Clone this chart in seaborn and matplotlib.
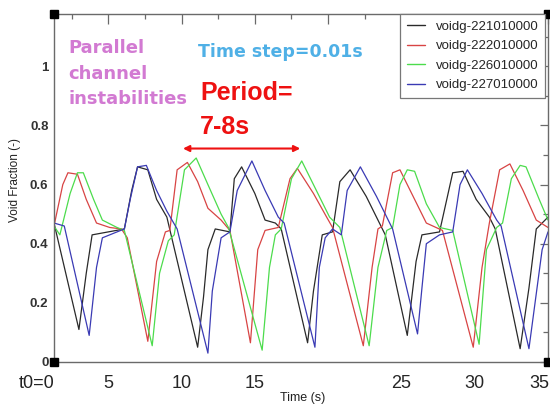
import numpy as np
import pandas as pd
import matplotlib
matplotlib.use("Agg")
import matplotlib.pyplot as plt
import seaborn as sns

# ---------------- data ----------------
series_names = ["voidg-221010000", "voidg-222010000", "voidg-226010000", "voidg-227010000"]
series_colors = ["#2a2a2a", "#d84444", "#4cdc4c", "#3a3ab4"]

t_black = [1.3, 3.0, 3.5, 3.9, 5.0, 6.1, 6.6, 7.0, 7.7, 8.3, 9.0, 11.1, 11.5, 11.8, 12.3, 13.3,
           13.6, 14.1, 15.0, 15.7, 16.4, 16.8, 18.6, 19.0, 19.6, 20.3, 20.8, 21.5, 22.6, 23.5,
           23.9, 25.4, 26.0, 26.4, 27.6, 28.5, 29.2, 30.1, 31.0, 31.4, 33.1, 33.7, 34.2, 35.0]
v_black = [0.47, 0.11, 0.30, 0.43, 0.44, 0.45, 0.58, 0.66, 0.65, 0.55, 0.49, 0.05, 0.22, 0.38,
           0.45, 0.44, 0.62, 0.66, 0.57, 0.48, 0.47, 0.45, 0.065, 0.24, 0.43, 0.44, 0.61, 0.65,
           0.56, 0.47, 0.43, 0.09, 0.34, 0.43, 0.44, 0.64, 0.645, 0.55, 0.49, 0.45, 0.045, 0.25,
           0.45, 0.49]

t_red = [1.3, 1.9, 2.25, 2.9, 3.5, 4.2, 5.1, 5.9, 6.3, 7.7, 8.3, 8.9, 9.2, 9.7, 10.4, 11.1,
         11.8, 12.7, 13.3, 14.7, 15.2, 15.7, 16.6, 17.4, 17.9, 19.0, 19.9, 20.3, 22.4, 23.0,
         23.4, 23.7, 24.4, 24.9, 25.8, 26.7, 27.8, 29.9, 30.5, 31.0, 31.7, 32.4, 33.3, 34.2, 35.0]
v_red = [0.46, 0.60, 0.64, 0.635, 0.55, 0.47, 0.455, 0.45, 0.42, 0.07, 0.34, 0.44, 0.445, 0.65,
         0.675, 0.61, 0.52, 0.48, 0.445, 0.065, 0.38, 0.445, 0.455, 0.62, 0.655, 0.57, 0.49,
         0.455, 0.055, 0.32, 0.45, 0.46, 0.64, 0.65, 0.56, 0.47, 0.445, 0.05, 0.32, 0.47, 0.65,
         0.67, 0.58, 0.48, 0.455]

t_green = [1.3, 1.7, 2.4, 2.9, 3.3, 4.0, 4.6, 5.6, 6.1, 8.0, 8.5, 9.1, 9.5, 10.2, 11.0, 11.8,
           12.7, 13.2, 15.5, 16.0, 16.4, 16.8, 17.5, 18.2, 19.0, 20.1, 20.8, 22.8, 23.4, 24.0,
           24.4, 24.9, 25.4, 25.9, 26.7, 27.6, 28.5, 30.3, 30.8, 31.5, 31.9, 32.5, 33.1, 33.5,
           34.4, 35.0]
v_green = [0.46, 0.43, 0.57, 0.64, 0.64, 0.55, 0.48, 0.455, 0.445, 0.055, 0.30, 0.41, 0.43,
           0.65, 0.69, 0.60, 0.50, 0.455, 0.04, 0.32, 0.43, 0.45, 0.62, 0.68, 0.60, 0.49, 0.455,
           0.055, 0.32, 0.445, 0.455, 0.60, 0.65, 0.645, 0.535, 0.455, 0.445, 0.06, 0.38, 0.455,
           0.47, 0.62, 0.665, 0.66, 0.55, 0.48]

t_blue = [1.3, 2.0, 3.7, 4.2, 4.6, 5.6, 6.1, 6.5, 7.0, 7.6, 8.3, 9.0, 9.7, 11.8, 12.1, 12.7,
          13.3, 13.8, 14.8, 15.7, 16.6, 17.0, 19.1, 19.4, 19.8, 20.3, 20.9, 21.3, 22.2, 23.3,
          24.0, 24.4, 26.1, 26.4, 26.7, 27.6, 28.5, 29.0, 29.5, 30.5, 31.5, 31.8, 33.7, 34.6, 35.0]
v_blue = [0.47, 0.46, 0.09, 0.32, 0.42, 0.44, 0.45, 0.55, 0.66, 0.665, 0.58, 0.51, 0.45, 0.03,
          0.24, 0.42, 0.44, 0.58, 0.68, 0.58, 0.49, 0.47, 0.05, 0.32, 0.42, 0.45, 0.43, 0.58,
          0.66, 0.56, 0.49, 0.45, 0.095, 0.25, 0.40, 0.43, 0.44, 0.60, 0.65, 0.57, 0.48, 0.46,
          0.045, 0.38, 0.44]

x_ticks = [5, 10, 15, 20, 25, 30, 35]
x_tick_labels = ["5", "10", "15", "", "25", "30", ""]
last_x_label = "35"
y_ticks = [0, 0.2, 0.4, 0.6, 0.8, 1.0]
y_tick_labels = ["0", "0.2", "0.4", "0.6", "0.8", "1"]

# ---------------- build long-form table ----------------
frames = []
for name, tt, vv in zip(series_names,
                        [t_black, t_red, t_green, t_blue],
                        [v_black, v_red, v_green, v_blue]):
    frames.append(pd.DataFrame({"t": tt, "v": vv, "series": name}))
df = pd.concat(frames, ignore_index=True)

# ---------------- figure ----------------
sns.set_style("white")
plt.rcParams["font.family"] = ["Liberation Sans", "DejaVu Sans"]

W, H = 550, 408
fig = plt.figure(figsize=(W / 100, H / 100), dpi=100)
ax = fig.add_axes([54 / W, (H - 362) / H, (548 - 54) / W, (362 - 14) / H])

sns.lineplot(data=df, x="t", y="v", hue="series", palette=dict(zip(series_names, series_colors)),
             estimator=None, sort=False, lw=0.9, ax=ax)

ax.set_xlim(1.3, 35.0)
ax.set_ylim(0, 1.177)

ax.set_xticks(x_ticks)
ax.set_xticklabels(x_tick_labels, fontsize=13)
ax.set_xticks(np.arange(2.5, 35, 5), minor=True)
ax.set_yticks(y_ticks)
ax.set_yticklabels(y_tick_labels, fontsize=9.5, fontweight="bold", color="#333333")
ax.set_yticks(np.arange(0.1, 1.15, 0.2), minor=True)
ax.set_xlabel("")
ax.set_ylabel("")

spine_c = "#6a6a6a"
for s in ax.spines.values():
    s.set_color(spine_c)
    s.set_linewidth(1.0)
    s.set_visible(True)
ax.tick_params(axis="both", which="both", direction="in", top=True, right=True,
               color=spine_c, width=0.9)
ax.tick_params(axis="x", which="major", length=7, pad=9)
ax.tick_params(axis="x", which="minor", length=3.5)
ax.tick_params(axis="y", which="major", length=6, pad=4)
ax.tick_params(axis="y", which="minor", length=3.5)

# corner squares
ax.plot([0, 0, 1, 1], [0, 1, 0, 1], ls="none", marker="s", ms=5.5, color="black",
        transform=ax.transAxes, clip_on=False, zorder=5)

# legend
handles, labels = ax.get_legend_handles_labels()
leg = ax.legend(handles, labels, loc="upper right", bbox_to_anchor=(545 / W, (H - 14) / H),
                bbox_transform=fig.transFigure, fontsize=9.5, frameon=True, fancybox=False,
                framealpha=1, edgecolor="#777777", handlelength=1.4, handletextpad=0.8,
                labelspacing=0.55, borderpad=0.5, borderaxespad=0)
leg.get_frame().set_linewidth(0.9)
for lh in leg.get_lines():
    lh.set_linewidth(1.0)

# axis labels as text
fig.text(303 / W, 1 - 398 / H, "Time (s)", ha="center", va="center", fontsize=9, color="#222222")
fig.text(15 / W, 1 - 180 / H, "Void Fraction (-)", ha="center", va="center", rotation=90,
         fontsize=8.5, color="#222222")
fig.text(37 / W, 1 - 383 / H, "t0=0", ha="center", va="center", fontsize=13, color="#222222")
fig.text(549 / W, 1 - 383 / H, last_x_label, ha="right", va="center", fontsize=13,
         color="#222222")

# annotations
pink = "#d27ad2"
for txt, yc in [("Parallel", 48), ("channel", 74), ("instabilities", 99)]:
    fig.text(68 / W, 1 - yc / H, txt, ha="left", va="center", fontsize=13, fontweight="bold",
             color=pink, family="DejaVu Sans")
fig.text(198 / W, 1 - 52 / H, "Time step=0.01s", ha="left", va="center", fontsize=12.5,
         fontweight="bold", color="#4fb0e6", family="DejaVu Sans")
fig.text(200 / W, 1 - 93 / H, "Period=", ha="left", va="center", fontsize=18,
         fontweight="bold", color="#ee1111")
fig.text(200 / W, 1 - 127 / H, "7-8s", ha="left", va="center", fontsize=18,
         fontweight="bold", color="#ee1111")
ax.annotate("", xy=(18.1, 0.722), xytext=(10.1, 0.722),
            arrowprops=dict(arrowstyle="<|-|>", color="#ee1111", lw=1.5, mutation_scale=9,
                            shrinkA=0, shrinkB=0))

fig.savefig("out.png", dpi=100)
